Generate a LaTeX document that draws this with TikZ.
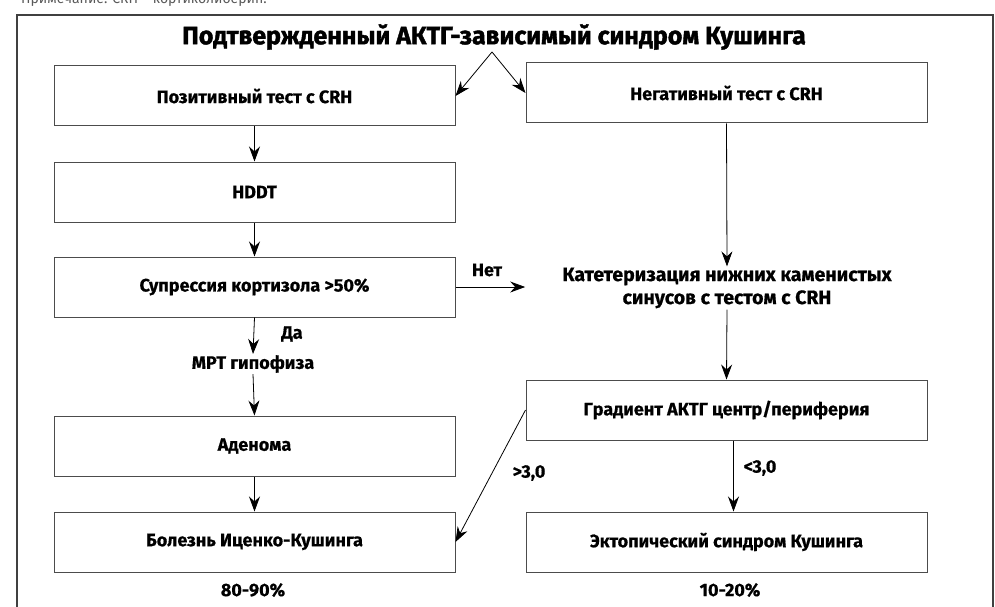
\documentclass[tikz,border=0pt]{standalone}
\usepackage{fontspec}
\setmainfont{Fira Sans}[BoldFeatures={FakeBold=0.6}]
\newfontfamily\titlefont{Fira Sans}[BoldFeatures={FakeBold=1.6}]
\usetikzlibrary{arrows.meta}
\tikzset{>={Stealth[length=15pt,width=11pt,inset=5pt]}}
\tikzset{
  box/.style={draw=black!70, line width=1pt, minimum width=401pt, minimum height=60pt,
    inner sep=0pt, font=\bfseries\fontsize{18}{21}\selectfont},
  lbl/.style={font=\bfseries\fontsize{18}{21}\selectfont, inner sep=1pt},
  arr/.style={->, line width=0.8pt},
}

\begin{document}
\begin{tikzpicture}[x=1pt,y=-1pt]
  \useasboundingbox (0,0) rectangle (995,607);
  \clip (0,0) rectangle (995,607);
  % cut-off note and outer frame
  \node[anchor=base west, inner sep=0pt, text=black!65, font=\fontsize{14}{16}\selectfont] (note) at (21,4) {Примечание: CRH -- кортиколиберин.};
  \draw[black!75, line width=1.3pt] (17,630) -- (17,15) -- (993,15) -- (993,630);
  \node[font=\titlefont\bfseries\fontsize{25}{30}\selectfont] (title) at (494,37) {Подтвержденный АКТГ-зависимый синдром Кушинга};
  \coordinate (fork) at (492,52);
  % left column
  \node[box] (pos) at (254.5,96) {Позитивный тест с CRH};
  \node[box] (hddt) at (254.5,192) {HDDT};
  \node[box] (supp) at (254.5,287) {Супрессия кортизола >50\%};
  \node[lbl] (mri) at (253,364) {МРТ гипофиза};
  \node[box] (aden) at (254.5,446) {Аденома};
  \node[box] (ic) at (254.5,542) {Болезнь Иценко-Кушинга};
  \node[lbl] (p1) at (253,590) {80-90\%};
  % right column
  \node[box] (neg) at (726.5,93) {Негативный тест с CRH};
  \node[lbl, align=center, font=\bfseries\fontsize{19.5}{23}\selectfont] (cath) at (727,288)
    {Катетеризация нижних каменистых\\синусов с тестом с CRH};
  \node[box] (grad) at (726.5,410) {Градиент АКТГ центр/периферия};
  \node[box] (ect) at (726.5,542) {Эктопический синдром Кушинга};
  \node[lbl] (p2) at (730,590) {10-20\%};
  % connectors
  \draw[arr] (fork) -- (pos.east);
  \draw[arr] (fork) -- (neg.west);
  \draw[arr] (pos.south) -- (hddt.north);
  \draw[arr] (hddt.south) -- (supp.north);
  \draw[arr] (supp.south) -- (mri.north);
  \node[lbl] (yes) at (292,334) {Да};
  \draw[arr] (mri.south) -- (aden.north);
  \draw[arr] (aden.south) -- (ic.north);
  \draw[arr, shorten >=36pt] (supp.east) -- (supp.east -| cath.west);
  \node[lbl] (no) at (487,270) {Нет};
  \draw[arr] (neg.south) -- (cath.north);
  \draw[arr] (cath.south) -- (grad.north);
  \draw[arr] (grad.west) -- (ic.east);
  \node[lbl] (gt) at (529,473) {>3,0};
  \draw[arr] ([xshift=7pt]grad.south) -- ([xshift=7pt]ect.north);
  \node[lbl] (lt) at (760,468) {<3,0};
\end{tikzpicture}
\end{document}
